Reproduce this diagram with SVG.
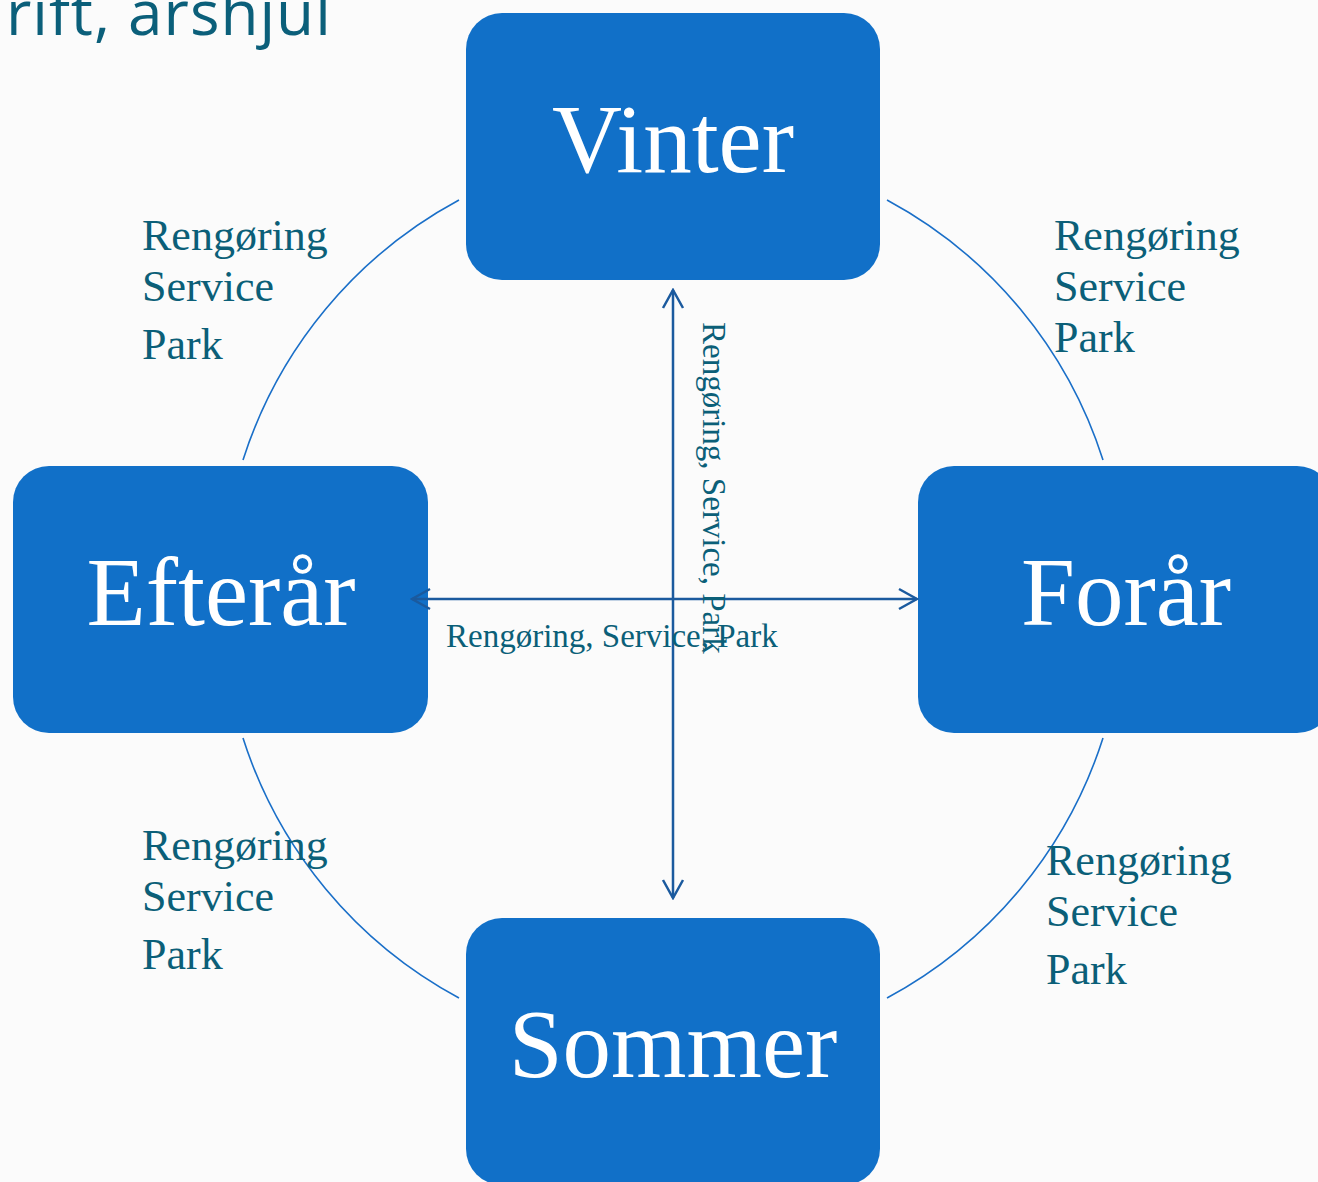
<svg xmlns="http://www.w3.org/2000/svg" width="1318" height="1182" viewBox="0 0 1318 1182">
<defs>
<style>
.box{fill:#1170c8;}
.btxt{fill:#ffffff;font-family:"Liberation Serif","DejaVu Serif",serif;font-size:97px;text-anchor:middle;}
.lbl{fill:#0b5f78;font-family:"Liberation Serif","DejaVu Serif",serif;font-size:44px;}
.slbl{fill:#0b5f78;font-family:"Liberation Serif","DejaVu Serif",serif;font-size:33px;}
.arc{fill:none;stroke:#1a6fc8;stroke-width:1.6;}
.conn{fill:none;stroke:#1b5a9e;stroke-width:2.5;}
</style>
<marker id="ah" viewBox="0 0 22 24" refX="20" refY="12" markerWidth="22" markerHeight="24" markerUnits="userSpaceOnUse" orient="auto-start-reverse">
<path d="M2,2 L20,12 L2,22" fill="none" stroke="#1b5a9e" stroke-width="2.5"/>
</marker>
</defs>
<rect width="1318" height="1182" fill="#fbfbfb"/>
<text x="6" y="35" fill="#0b5f7a" font-family="'Open Sans','Noto Sans',sans-serif" font-size="62" letter-spacing="1">rift, årshjul</text>
<g id="arcs">
<path class="arc" d="M459,200 A451,451 0 0 0 243,460"/>
<path class="arc" d="M887,200 A451,451 0 0 1 1103,460"/>
<path class="arc" d="M243,738 A451,451 0 0 0 459,998"/>
<path class="arc" d="M1103,738 A451,451 0 0 1 887,998"/>
</g>
<g id="vinter"><rect class="box" x="466" y="13" width="414" height="267" rx="36"/><text class="btxt" x="673" y="172">Vinter</text></g>
<g id="efteraar"><rect class="box" x="13" y="466" width="415" height="267" rx="36"/><text class="btxt" x="221" y="625">Efterår</text></g>
<g id="foraar"><rect class="box" x="918" y="466" width="415" height="267" rx="36"/><text class="btxt" x="1126" y="625">Forår</text></g>
<g id="sommer"><rect class="box" x="466" y="918" width="414" height="267" rx="36"/><text class="btxt" x="673" y="1077">Sommer</text></g>
<g id="connectors">
<line class="conn" x1="673" y1="898" x2="673" y2="290" marker-start="url(#ah)" marker-end="url(#ah)"/>
<line class="conn" x1="412" y1="599" x2="917" y2="599" marker-start="url(#ah)" marker-end="url(#ah)"/>
</g>
<g id="labels">
<text class="lbl" x="142" y="250">Rengøring</text><text class="lbl" x="142" y="301">Service</text><text class="lbl" x="142" y="359">Park</text>
<text class="lbl" x="1054" y="250">Rengøring</text><text class="lbl" x="1054" y="301">Service</text><text class="lbl" x="1054" y="352">Park</text>
<text class="lbl" x="142" y="860">Rengøring</text><text class="lbl" x="142" y="911">Service</text><text class="lbl" x="142" y="969">Park</text>
<text class="lbl" x="1046" y="875">Rengøring</text><text class="lbl" x="1046" y="926">Service</text><text class="lbl" x="1046" y="984">Park</text>
<text class="slbl" x="446" y="647">Rengøring, Service, Park</text>
<text class="slbl" transform="translate(703,322) rotate(90)">Rengøring, Service, Park</text>
</g>
</svg>
